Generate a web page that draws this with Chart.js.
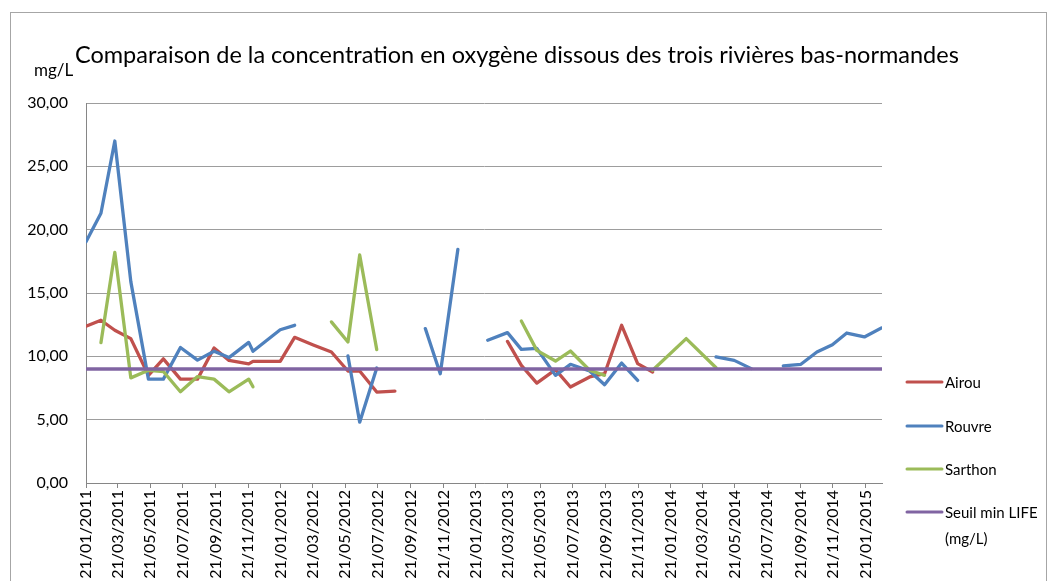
<!DOCTYPE html>
<html lang="fr">
<head>
<meta charset="utf-8">
<title>Oxygène dissous - rivières bas-normandes</title>
<script src="https://cdn.jsdelivr.net/npm/chart.js@4/dist/chart.umd.min.js"></script>
<style>
  html, body { margin: 0; padding: 0; background: #fff; }
  #wrap { width: 1051px; height: 581px; }
</style>
</head>
<body>
<div id="wrap"><canvas id="chart" width="1051" height="581"></canvas></div>
<script>
'use strict';

/* Dates de prélèvement (une ligne = une campagne de mesure) */
const sampleDates = [
  '21/01/2011', '18/02/2011', '16/03/2011', '15/04/2011', '18/05/2011', '15/06/2011',
  '17/07/2011', '18/08/2011', '18/09/2011', '16/10/2011', '22/11/2011', '30/11/2011',
  '20/01/2012', '16/02/2012', '22/03/2012', '25/04/2012', '26/05/2012', '17/06/2012',
  '19/07/2012', '22/08/2012', '18/10/2012', '15/11/2012', '18/12/2012', '16/01/2013',
  '12/02/2013', '21/03/2013', '16/04/2013', '15/05/2013', '19/06/2013', '17/07/2013',
  '22/08/2013', '19/09/2013', '21/10/2013', '20/11/2013', '18/12/2013', '19/02/2014',
  '16/04/2014', '20/05/2014', '21/06/2014', '21/07/2014', '20/08/2014', '22/09/2014',
  '22/10/2014', '20/11/2014', '17/12/2014', '19/01/2015', '20/02/2015'
];

/* Oxygène dissous en mg/L (null = pas de mesure) */
const airou = [
  12.37, 12.85, 12.06, 11.40, 8.50, 9.80,
  8.20, 8.20, 10.66, 9.68, 9.40, 9.60,
  9.60, 11.50, 10.90, 10.34, 8.84, 8.84,
  7.18, 7.26, null, null, null, null,
  null, 11.18, 9.29, 7.89, 8.95, 7.58,
  8.37, 8.63, 12.45, 9.42, 8.76, null,
  null, null, null, null, null, null,
  null, null, null, null, null
];

const rouvre = [
  19.05, 21.30, 27.00, 15.90, 8.20, 8.20,
  10.70, 9.70, 10.40, 9.90, 11.10, 10.40,
  12.10, 12.45, null, null, 10.03, 4.80,
  9.08, null, 12.19, 8.63, 18.44, null,
  11.27, 11.87, 10.55, 10.63, 8.50, 9.37,
  8.84, 7.76, 9.47, 8.10, null, null,
  9.95, 9.68, 9.03, null, 9.24, 9.37,
  10.34, 10.92, 11.84, 11.53, 12.24
];

const sarthon = [
  null, 11.08, 18.20, 8.30, 8.90, 8.80,
  7.20, 8.40, 8.20, 7.20, 8.20, 7.60,
  null, null, null, 12.72, 11.13, 18.00,
  10.53, null, null, null, null, null,
  null, null, 12.79, 10.47, 9.63, 10.42,
  8.90, 8.50, null, null, 8.90, 11.40,
  9.10, null, null, null, null, null,
  null, null, null, null, null
];

const seuilLife = 9;

const seriesNames = ['Airou', 'Rouvre', 'Sarthon', ['Seuil min LIFE', '(mg/L)']];
const seriesColors = ['#C0504D', '#4F81BD', '#9BBB59', '#8064A2'];

const tickLabels = [
  '21/01/2011', '21/03/2011', '21/05/2011', '21/07/2011', '21/09/2011', '21/11/2011',
  '21/01/2012', '21/03/2012', '21/05/2012', '21/07/2012', '21/09/2012', '21/11/2012',
  '21/01/2013', '21/03/2013', '21/05/2013', '21/07/2013', '21/09/2013', '21/11/2013',
  '21/01/2014', '21/03/2014', '21/05/2014', '21/07/2014', '21/09/2014', '21/11/2014',
  '21/01/2015'
];
const axisStart = '21/01/2011';
const axisEnd = '21/02/2015';

const yMin = 0;
const yMax = 30;
const yStep = 5;

const chartTitle = 'Comparaison de la concentration en oxygène dissous des trois rivières bas-normandes';
const yUnit = 'mg/L';

const FONT = 'Lato, "Open Sans", sans-serif';
const GRID = '#9d9d9d';
const AXIS = '#868686';

// jour relatif au début de l'axe
function dayOf(frDate) {
  const [d, m, y] = frDate.split('/').map(Number);
  const [d0, m0, y0] = axisStart.split('/').map(Number);
  return Math.round((Date.UTC(y, m - 1, d) - Date.UTC(y0, m0 - 1, d0)) / 86400000);
}

function toPoints(values) {
  return sampleDates.map((d, i) => ({ x: dayOf(d), y: values[i] }));
}

function fmtComma(v) { return v.toFixed(2).replace('.', ','); }

const framePlugin = {
  id: 'frame',
  beforeDraw(chart) {
    const ctx = chart.ctx;
    ctx.save();
    ctx.fillStyle = '#fff';
    ctx.fillRect(0, 0, chart.width, chart.height);
    ctx.strokeStyle = '#a6a6a6';
    ctx.lineWidth = 1;
    ctx.strokeRect(10.5, 12.5, 1036, 600);
    ctx.restore();
  },
  afterDraw(chart) {
    const ctx = chart.ctx;
    const area = chart.chartArea;
    ctx.save();
    ctx.fillStyle = '#000';
    ctx.textBaseline = 'middle';
    // titre
    ctx.font = '23.5px ' + FONT;
    ctx.textAlign = 'left';
    ctx.fillText(chartTitle, 75, 55);
    // unité de l'axe y
    ctx.font = '17px ' + FONT;
    ctx.fillText(yUnit, 34, 71);

    // légende
    const rows = [382, 426, 469, 512];
    const lx = area.right + 25;
    chart.data.datasets.forEach((ds, i) => {
      const y = rows[i];
      ctx.strokeStyle = ds.borderColor;
      ctx.lineWidth = 3;
      ctx.lineCap = 'round';
      ctx.beginPath();
      ctx.moveTo(lx, y);
      ctx.lineTo(lx + 35, y);
      ctx.stroke();
      ctx.font = '15px ' + FONT;
      ctx.fillStyle = '#000';
      const lines = Array.isArray(seriesNames[i]) ? seriesNames[i] : [seriesNames[i]];
      lines.forEach((t, j) => ctx.fillText(t, lx + 38, y + 1 + j * 26));
    });
    ctx.restore();
  }
};

const ctx = document.getElementById('chart').getContext('2d');

const lineStyle = {
  borderWidth: 3.3,
  pointRadius: 0,
  pointHoverRadius: 0,
  tension: 0,
  spanGaps: false,
  fill: false,
  borderCapStyle: 'round',
  borderJoinStyle: 'round'
};

new Chart(ctx, {
  type: 'line',
  data: {
    datasets: [
      { ...lineStyle, label: 'Airou', data: toPoints(airou), borderColor: seriesColors[0], order: 3 },
      { ...lineStyle, label: 'Rouvre', data: toPoints(rouvre), borderColor: seriesColors[1], order: 2 },
      { ...lineStyle, label: 'Sarthon', data: toPoints(sarthon), borderColor: seriesColors[2], order: 1 },
      {
        ...lineStyle, label: 'Seuil min LIFE (mg/L)', borderColor: seriesColors[3], order: 0,
        data: [{ x: dayOf(axisStart), y: seuilLife }, { x: dayOf(axisEnd), y: seuilLife }]
      }
    ]
  },
  options: {
    responsive: false,
    animation: false,
    events: [],
    layout: { padding: { left: 0, top: 103, right: 169, bottom: 0 } },
    plugins: {
      legend: { display: false },
      title: { display: false },
      tooltip: { enabled: false }
    },
    scales: {
      x: {
        type: 'linear',
        min: dayOf(axisStart),
        max: dayOf(axisEnd),
        afterBuildTicks: (scale) => {
          scale.ticks = tickLabels.map(t => ({ value: dayOf(t) }));
        },
        afterFit: (scale) => { scale.height = 98; },
        ticks: {
          autoSkip: false,
          minRotation: 90,
          maxRotation: 90,
          padding: 2,
          color: '#000',
          font: { family: FONT, size: 16 },
          callback: (value, index) => tickLabels[index]
        },
        grid: {
          drawOnChartArea: false,
          drawTicks: true,
          tickLength: 5,
          color: AXIS
        },
        border: { display: true, color: AXIS, width: 1 }
      },
      y: {
        min: yMin,
        max: yMax,
        afterFit: (scale) => { scale.width = 86; },
        ticks: {
          stepSize: yStep,
          padding: 18,
          color: '#000',
          font: { family: FONT, size: 16 },
          callback: (v) => fmtComma(v)
        },
        grid: {
          drawTicks: false,
          color: GRID,
          lineWidth: 1
        },
        border: { display: true, color: AXIS, width: 1 }
      }
    }
  },
  plugins: [framePlugin]
});
</script>
</body>
</html>
